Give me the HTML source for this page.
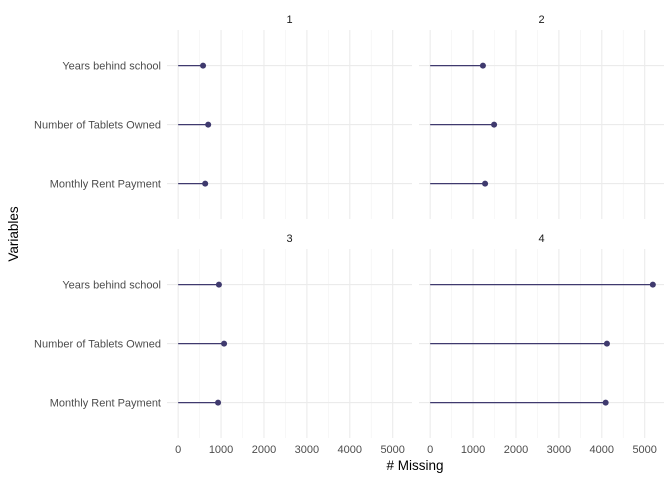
<!DOCTYPE html>
<html><head><meta charset="utf-8"><style>
body{margin:0;background:#fff;font-family:"Liberation Sans",sans-serif}
</style></head><body>
<svg id="c" width="672" height="480" xmlns="http://www.w3.org/2000/svg"></svg>
<script>
const categories=["Years behind school","Number of Tablets Owned","Monthly Rent Payment"];
const facets=["1","2","3","4"];
const values1=[580,700,630];
const values2=[1230,1490,1280];
const values3=[950,1070,930];
const values4=[5190,4120,4090];
const xTicks=[0,1000,2000,3000,4000,5000];
const allVals=[values1,values2,values3,values4];
const svg=document.getElementById('c');const NS="http://www.w3.org/2000/svg";
function mk(t,a,p){const e=document.createElementNS(NS,t);for(const k in a)e.setAttribute(k,a[k]);(p||svg).appendChild(e);return e;}
const panels=[{x0:167,y0:30},{x0:419,y0:30},{x0:167,y0:249},{x0:419,y0:249}];
const pw=245,ph=189,dmin=-260,dmax=5450;
const col="#3f3a6e";
panels.forEach((p,i)=>{
 const g=mk('g',{});
 
 
 const xs=v=>p.x0+(v-dmin)/(dmax-dmin)*pw;
 const ys=k=>p.y0+ph-(0.6+(categories.length-1-k))*59;
 for(let v=500;v<=5000;v+=1000){mk('line',{x1:xs(v),x2:xs(v),y1:p.y0,y2:p.y0+ph,stroke:"#f2f2f2","stroke-width":0.6},g);}
 xTicks.forEach(v=>mk('line',{x1:xs(v),x2:xs(v),y1:p.y0,y2:p.y0+ph,stroke:"#ebebeb","stroke-width":1.1},g));
 categories.forEach((c,k)=>mk('line',{x1:p.x0,x2:p.x0+pw,y1:ys(k),y2:ys(k),stroke:"#ebebeb","stroke-width":1.1},g));
 const st=mk('text',{x:p.x0+pw/2,y:p.y0-7,"text-anchor":"middle","font-size":11,fill:"#1a1a1a"},g);st.textContent=facets[i];
 
 
 allVals[i].forEach((v,k)=>{
  const l=mk('line',{x1:xs(0),x2:xs(v),y1:ys(k),y2:ys(k),stroke:col,"stroke-width":1.2},g);
  
  
  const d=mk('circle',{cx:xs(v),cy:ys(k),r:3,fill:col},g);
  
  
 });
 if(i%2==0){categories.forEach((c,k)=>{const t=mk('text',{x:p.x0-6,y:ys(k)+4,"text-anchor":"end","font-size":11,fill:"#4d4d4d"});t.textContent=c;
  
  });}
 if(i>=2){xTicks.forEach(v=>{const t=mk('text',{x:xs(v),y:453,"text-anchor":"middle","font-size":11,fill:"#4d4d4d"});t.textContent=v;
  
  });}
});
const xt=mk('text',{x:415,y:470,"text-anchor":"middle","font-size":13.5,fill:"#000"});xt.textContent="# Missing";


const yt=mk('text',{x:0,y:0,"text-anchor":"middle","font-size":13.5,fill:"#000",transform:"translate(18,234) rotate(-90)"});yt.textContent="Variables";


</script>
</body></html>
